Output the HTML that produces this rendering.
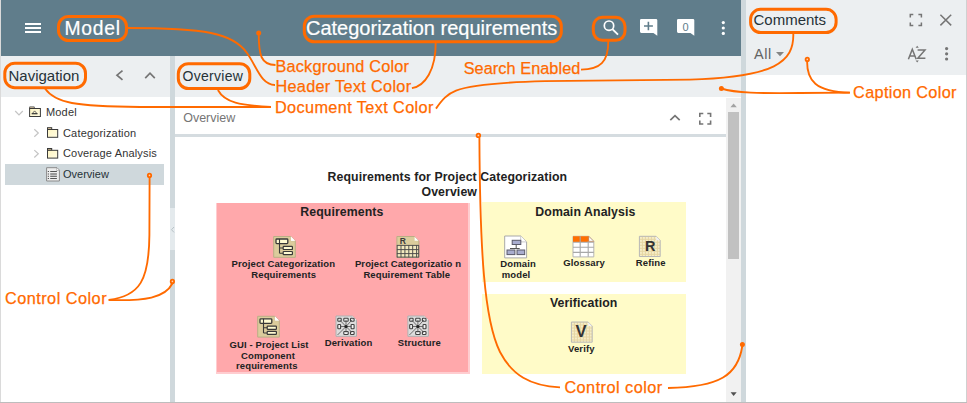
<!DOCTYPE html>
<html><head><meta charset="utf-8">
<style>
*{margin:0;padding:0;box-sizing:border-box}
html,body{width:967px;height:403px;overflow:hidden;background:#fff;font-family:"Liberation Sans",sans-serif}
.a{position:absolute}
.t{position:absolute;line-height:1;white-space:nowrap}
.hdr{left:1px;top:0;width:740px;height:56px;background:#607D8B}
.gray{background:#ECEFF1}
.div{background:#CFD8DC}
.w{color:#fff;-webkit-text-stroke:.2px #fff}
.nav{color:#333;font-size:11px;letter-spacing:.17px}
.lab{color:#FF6A00;font-size:16.3px;-webkit-text-stroke:.25px #FF6A00}
.dg{color:#222;font-weight:bold;font-size:12.3px;letter-spacing:.1px}
.dl{color:#222;font-weight:bold;font-size:9.5px;letter-spacing:.12px}
</style></head><body>
<!-- borders -->
<div class="a" style="left:0;top:0;width:1px;height:403px;background:#DADADA"></div>
<div class="a" style="left:966px;top:0;width:1px;height:403px;background:#D0D0D0"></div>

<!-- header -->
<div class="a hdr"></div>
<div class="a" style="left:25px;top:22.7px;width:15.8px;height:1.9px;background:#fff"></div>
<div class="a" style="left:25px;top:26.95px;width:15.8px;height:1.9px;background:#fff"></div>
<div class="a" style="left:25px;top:31.15px;width:15.8px;height:1.9px;background:#fff"></div>
<div class="t w" style="left:64.4px;top:18.9px;font-size:19.3px;letter-spacing:.8px">Model</div>
<div class="t w" style="left:306px;top:17.9px;font-size:20px">Categorization requirements</div>
<svg class="a" style="left:0;top:0" width="967" height="403" viewBox="0 0 967 403">
 <!-- search -->
 <circle cx="609" cy="25.7" r="4.7" fill="none" stroke="#fff" stroke-width="1.7"/>
 <line x1="612.4" y1="29.1" x2="618" y2="34.6" stroke="#fff" stroke-width="1.9"/>
 <!-- add comment bubble -->
 <path d="M641.3,19 H656 a1.3,1.3 0 0 1 1.3,1.3 V35.8 L653.4,32.9 H641.3 a1.3,1.3 0 0 1 -1.3,-1.3 V20.3 a1.3,1.3 0 0 1 1.3,-1.3Z" fill="#fff"/>
 <path d="M644,26 H652.9 M648.4,21.8 V30.2" stroke="#607D8B" stroke-width="1.6"/>
 <path d="M678.3,19 H693 a1.3,1.3 0 0 1 1.3,1.3 V35.8 L690.4,32.9 H678.3 a1.3,1.3 0 0 1 -1.3,-1.3 V20.3 a1.3,1.3 0 0 1 1.3,-1.3Z" fill="#fff"/>
 <!-- kebab -->
 <circle cx="723.3" cy="22.6" r="1.6" fill="#fff"/>
 <circle cx="723.3" cy="28" r="1.6" fill="#fff"/>
 <circle cx="723.3" cy="33.4" r="1.6" fill="#fff"/>
</svg>
<div class="t" style="left:682.5px;top:21.5px;font-size:11px;color:#607D8B">0</div>

<!-- right divider + comments panel -->
<div class="a div" style="left:741px;top:0;width:4.5px;height:403px"></div>
<div class="a gray" style="left:745.5px;top:0;width:220.5px;height:75px"></div>
<div class="t" style="left:753.5px;top:12.1px;font-size:15px;color:#263238">Comments</div>
<div class="t" style="left:754px;top:46.8px;font-size:14.5px;letter-spacing:.6px;color:#636363">All</div>

<!-- nav panel -->
<div class="a gray" style="left:1px;top:56px;width:169px;height:41px"></div>
<div class="t" style="left:8.5px;top:68.1px;font-size:15px;color:#263238">Navigation</div>
<!-- nav divider -->
<div class="a div" style="left:170px;top:56px;width:5px;height:346px"></div>
<div class="a" style="left:170px;top:208px;width:5px;height:42px;background:#E4EAED"></div>

<!-- tree -->
<div class="a" style="left:5px;top:164px;width:159px;height:21px;background:#CFD8DC"></div>
<div class="t nav" style="left:46px;top:106.6px">Model</div>
<div class="t nav" style="left:63px;top:127.5px">Categorization</div>
<div class="t nav" style="left:63px;top:148.1px">Coverage Analysis</div>
<div class="t nav" style="left:63px;top:168.9px;color:#263238;letter-spacing:0">Overview</div>

<!-- content -->
<div class="a gray" style="left:175px;top:56px;width:566px;height:41px"></div>
<div class="t" style="left:182.5px;top:68.9px;font-size:14px;letter-spacing:.3px;color:#263238">Overview</div>
<div class="t" style="left:183.2px;top:112.3px;font-size:12.5px;color:#757575">Overview</div>
<div class="a" style="left:175px;top:134px;width:551px;height:3px;background:#D5DCE0"></div>
<!-- scrollbar -->
<div class="a" style="left:726px;top:98px;width:15px;height:304px;background:#F1F1F1"></div>
<div class="a" style="left:728.2px;top:112.2px;width:10.6px;height:147.3px;background:#C1C1C1"></div>

<!-- bottom border -->
<div class="a" style="left:0;top:402px;width:967px;height:1px;background:#BDBDBD"></div>

<!-- diagram -->
<div class="a" style="left:216px;top:202.5px;width:254px;height:171.5px;background:#FFCDD0"></div>
<div class="a" style="left:217px;top:203px;width:251px;height:169px;background:#FFA8AB"></div>
<div class="a" style="left:482px;top:202px;width:204px;height:80px;background:#FFFBC8"></div>
<div class="a" style="left:482px;top:294px;width:204px;height:80px;background:#FFFBC8"></div>

<div class="t dg" style="left:327.5px;top:170.6px">Requirements for Project Categorization</div>
<div class="t dg" style="left:421.5px;top:185.9px">Overview</div>
<div class="t dg" style="left:300.3px;top:206.3px">Requirements</div>
<div class="t dg" style="left:535.3px;top:205.7px">Domain Analysis</div>
<div class="t dg" style="left:549.9px;top:297.2px">Verification</div>

<svg class="a" style="left:0;top:0" width="967" height="403" viewBox="0 0 967 403">
 <defs>
  <linearGradient id="fy" x1="0" y1="0" x2="1" y2="1"><stop offset="0" stop-color="#FFF6C2"/><stop offset="1" stop-color="#FFFBE2"/></linearGradient>
 </defs>
 <!-- tree chevrons -->
 <g fill="none" stroke="#C4C4C4" stroke-width="1.2">
  <path d="M15.2,111 L19,114.8 L22.8,111"/>
  <path d="M34.3,129.3 L38.3,133 L34.3,136.7"/>
  <path d="M34.3,150.1 L38.3,153.8 L34.3,157.5"/>
 </g>
 <!-- model package icon -->
 <path d="M29.6,108.5 V106.9 H34.3 V108.5" fill="#E9CFA0" stroke="#666" stroke-width="1"/>
 <rect x="29.6" y="108.5" width="10.8" height="8" fill="url(#fy)" stroke="#3a3a3a" stroke-width="1"/>
 <path d="M32.4,113.4 L34.6,110.9 L36.8,113.4" fill="none" stroke="#555" stroke-width=".9"/>
 <rect x="31.7" y="113.1" width="5.8" height="1.2" fill="#333"/>
 <!-- folders -->
 <g stroke="#3a3a3a" stroke-width="1">
  <rect x="47.5" y="127.7" width="4.2" height="1.8" fill="#E9CFA0"/>
  <rect x="47.5" y="129.5" width="10.2" height="7.8" fill="url(#fy)"/>
  <rect x="47.5" y="148.5" width="4.2" height="1.8" fill="#E9CFA0"/>
  <rect x="47.5" y="150.3" width="10.2" height="7.8" fill="url(#fy)"/>
 </g>
 <!-- overview doc -->
 <path d="M46.6,167.7 H57 L59.4,170.1 V181 H46.6 Z" fill="#EDEDED" stroke="#8a8a8a" stroke-width="1"/>
 <path d="M56.6,167.9 V170.5 H59.2" fill="#fff" stroke="#9a9a9a" stroke-width=".6"/>
 <g fill="#555">
  <rect x="47.8" y="171" width="1.2" height="1"/><rect x="50.2" y="171" width="6.7" height="1"/>
  <rect x="47.8" y="173.5" width="1.2" height="1"/><rect x="50.2" y="173" width="6.7" height="2.2" fill="#9a9a9a"/>
  <rect x="47.8" y="175.8" width="1.2" height="1"/><rect x="50.2" y="175.8" width="6.7" height="1"/>
  <rect x="47.8" y="178" width="1.2" height="1"/><rect x="50.2" y="178" width="6.7" height="1"/>
 </g>
 <!-- nav header chevrons -->
 <g fill="none" stroke="#757575" stroke-width="1.7">
  <path d="M122.5,70.6 L117,75.2 L122.5,79.8"/>
  <path d="M145.2,78.2 L150,73.2 L154.8,78.2"/>
  <path d="M670.3,120.2 L675,115.6 L679.7,120.2"/>
 </g>
 <!-- diagram fullscreen icon -->
 <path d="M699.8,117 V113.5 H703.3 M707.3,113.5 H710.6 V117 M710.6,120.6 V124 H707.3 M703.3,124 H699.8 V120.6" fill="none" stroke="#757575" stroke-width="1.6"/>
 <!-- comments panel icons -->
 <path d="M910.3,17.6 V14.6 H913.3 M918.4,14.6 H921.4 V17.6 M921.4,22.4 V25.4 H918.4 M913.3,25.4 H910.3 V22.4" fill="none" stroke="#757575" stroke-width="1.5"/>
 <path d="M940.4,14.8 L951.2,25.4 M951.2,14.8 L940.4,25.4" fill="none" stroke="#757575" stroke-width="1.5"/>
 <path d="M776,51.9 L784,51.9 L780,56.2 Z" fill="#858585"/>
 <g fill="#757575">
  <circle cx="946.6" cy="48.6" r="1.6"/><circle cx="946.6" cy="53.8" r="1.6"/><circle cx="946.6" cy="59" r="1.6"/>
 </g>
 <!-- AZ sort -->
 <path d="M908.4,59.2 L912.3,49.3 L916.2,59.2 M909.8,55.9 H914.8" fill="none" stroke="#757575" stroke-width="1.5"/>
 <path d="M917.6,49.9 H925 L917.8,58.3 H925.4" fill="none" stroke="#757575" stroke-width="1.5"/>
 <path d="M915.6,47.8 L917.2,45.8 L918.8,47.8Z M915.6,60.5 L917.2,62.4 L918.8,60.5Z" fill="#757575"/>
 <!-- scrollbar arrows -->
 <path d="M730.4,107.2 L733.6,103.6 L736.8,107.2 Z" fill="#A3A3A3"/>
 <path d="M730.6,392.3 L736.7,392.3 L733.65,396 Z" fill="#505050"/>
 <!-- splitter arrow -->
 <path d="M174,227 L171.5,229.7 L174,232.4" fill="none" stroke="#B8C2C7" stroke-width="1"/>
</svg>
<svg class="a" style="left:0;top:0" width="967" height="403" viewBox="0 0 967 403">
 <defs>
  <pattern id="gp" width="3" height="3" patternUnits="userSpaceOnUse">
   <rect width="3" height="3" fill="#F6EDC8"/><path d="M0,.5 H3 M.5,0 V3" stroke="#E6D6A2" stroke-width="1"/>
  </pattern>
  <g id="treeicon">
   <path d="M0.5,0.5 H17.6 L22.1,5 V21.3 H0.5 Z" fill="#DBCC9C" stroke="#BBAE86" stroke-width="1"/>
   <path d="M17.6,0.6 V5 H22" fill="#fff" stroke="#C9BD98" stroke-width=".6"/>
   <path d="M17.8,0.8 L21.8,4.8 H17.8Z" fill="#fff"/>
   <rect x="2.8" y="3" width="11.8" height="4.6" rx=".8" fill="#FFFBD2" stroke="#383838" stroke-width="1.3"/>
   <path d="M6.3,3 V17.2 M6.3,12 H10 M6.3,17.2 H10" stroke="#383838" stroke-width="1.1" fill="none"/>

   <rect x="10" y="10.4" width="9.2" height="3.1" rx=".6" fill="#FFFBD2" stroke="#383838" stroke-width="1.2"/>
   <rect x="10" y="15.5" width="9.2" height="3.1" rx=".6" fill="#FFFBD2" stroke="#383838" stroke-width="1.2"/>
  </g>
  <g id="graphicon">
   <path d="M0.5,0.5 H16.8 L21,4.7 V20.8 H0.5 Z" fill="#DCDCDC" stroke="#B0B0B0" stroke-width="1"/>
   <path d="M17,0.8 L20.7,4.5 H17Z" fill="#fff"/>
   <g fill="#F4F4F4" stroke="#404040" stroke-width="1.1">
    <rect x="2.3" y="2.8" width="3.4" height="3" rx=".7"/><rect x="8.3" y="2.8" width="4.4" height="3" rx=".7"/><rect x="15" y="2.8" width="3.6" height="3" rx=".7"/>
    <rect x="2.3" y="9" width="2.8" height="4.2" rx=".7"/><rect x="15.6" y="9" width="3" height="4.2" rx=".7"/>
    <rect x="8.3" y="16" width="4.4" height="3" rx=".7"/><rect x="15" y="16" width="3.6" height="3" rx=".7"/>
   </g>
   <path d="M10.5,11 L4,4.3 M10.5,11 L10.5,4.3 M10.5,11 L16.6,4.3 M10.5,11 L5,11 M10.5,11 L15.6,11 M10.5,11 L10.5,17 M10.5,11 L16.6,17 M10.5,11 L2,19.5" stroke="#505050" stroke-width=".8"/>
   <circle cx="10.5" cy="11" r="1.6" fill="#222"/>
  </g>
 </defs>
 <use href="#treeicon" x="273.2" y="236"/>
 <use href="#treeicon" x="257.2" y="315.8"/>
 <use href="#graphicon" x="335.5" y="315.5"/>
 <use href="#graphicon" x="407.4" y="315.5"/>
 <!-- table icon -->
 <g transform="translate(396.4,236)">
  <path d="M0.5,0.5 H18 L22.5,5 V21.3 H0.5 Z" fill="#DBCC9C" stroke="#BBAE86" stroke-width="1"/>
  <path d="M18.2,0.8 L22.2,4.8 H18.2Z" fill="#fff"/>
  <text x="3.3" y="8" font-family="Liberation Sans" font-weight="bold" font-size="8.5" fill="#3a3a3a">R</text>
  <rect x="0.5" y="9.2" width="22" height="12.1" fill="#F3EABF"/>
  <path d="M0.5,9.4 H22.5 M0.5,13.6 H22.5 M0.5,17.6 H22.5 M0.5,21.1 H22.5 M0.8,9.2 V21.3 M4.6,9.2 V21.3 M8.5,9.2 V21.3 M12.4,9.2 V21.3 M16.3,9.2 V21.3 M20.2,9.2 V21.3 M22.3,9.2 V21.3" stroke="#4a4a4a" stroke-width=".95"/>
 </g>
 <!-- domain model -->
 <g transform="translate(504.2,235.5)">
  <path d="M0.5,0.5 H16.5 L22.4,6.4 V22.4 H0.5 Z" fill="#fff" stroke="#A8A8A8" stroke-width="1"/>
  <path d="M16.5,0.6 V6.4 H22.3" fill="#fff" stroke="#BDBDBD" stroke-width=".8"/>
  <path d="M12,9 V13 M5.8,13 H15.5" stroke="#555" stroke-width="1"/>
  <rect x="8" y="4.8" width="8.6" height="4.2" fill="#A9ADCF" stroke="#5a5a6a" stroke-width="1"/>
  <rect x="2.8" y="14.5" width="7.9" height="4.6" fill="#A9ADCF" stroke="#5a5a6a" stroke-width="1"/>
  <rect x="12.8" y="14.5" width="7.7" height="4.6" fill="#A9ADCF" stroke="#5a5a6a" stroke-width="1"/>
 </g>
 <!-- glossary -->
 <g transform="translate(572.5,235.8)">
  <path d="M0.5,0.5 H16.3 L21.3,5.5 V21.1 H0.5 Z" fill="#fff" stroke="#B5B5B5" stroke-width="1"/>
  <path d="M0.5,0.5 H16.3 L21.3,5.5 V6.1 H0.5 Z" fill="#FF6F00"/>
  <path d="M16.3,0.6 V5.5 H21.2 Z" fill="#fff" stroke="#B0B0B0" stroke-width=".7"/>
  <path d="M0.5,6.4 H21.3 M0.5,11.5 H21.3 M0.5,16.6 H21.3 M7.7,0.5 V21 M15.7,5.5 V21" stroke="#A8A8A8" stroke-width="1.1"/>
  <path d="M15.7,0.5 V5.5" stroke="#E07A30" stroke-width="1.1"/>
 </g>
 <!-- refine -->
 <g transform="translate(638.9,235.8)">
  <path d="M0.5,0.5 H17.2 L21.3,4.6 V20.7 H0.5 Z" fill="url(#gp)" stroke="#B8B8B8" stroke-width="1"/>
  <path d="M17.3,0.8 L21,4.5 H17.3Z" fill="#f2f2f2"/>
  <text x="6.2" y="15.3" font-family="Liberation Sans" font-weight="bold" font-size="14.2" fill="#333" textLength="10.4" lengthAdjust="spacingAndGlyphs">R</text>
 </g>
 <!-- verify -->
 <g transform="translate(570.9,321.5)">
  <path d="M0.5,0.5 H17.2 L21.3,4.6 V20.7 H0.5 Z" fill="url(#gp)" stroke="#B8B8B8" stroke-width="1"/>
  <path d="M17.3,0.8 L21,4.5 H17.3Z" fill="#f2f2f2"/>
  <text x="4.7" y="15.3" font-family="Liberation Sans" font-weight="bold" font-size="16" fill="#333" textLength="11.1" lengthAdjust="spacingAndGlyphs">V</text>
 </g>
</svg>
<div class="t dl" style="left:231.6px;top:258.5px">Project Categorization</div>
<div class="t dl" style="left:251.3px;top:269.8px">Requirements</div>
<div class="t dl" style="left:354.9px;top:258.5px">Project Categorizatio n</div>
<div class="t dl" style="left:363.4px;top:269.8px">Requirement Table</div>
<div class="t dl" style="left:229.4px;top:340px">GUI - Project List</div>
<div class="t dl" style="left:241.1px;top:350.5px">Component</div>
<div class="t dl" style="left:236px;top:361px">requirements</div>
<div class="t dl" style="left:324.7px;top:337.6px">Derivation</div>
<div class="t dl" style="left:397.7px;top:337.6px">Structure</div>
<div class="t dl" style="left:500.3px;top:258.7px">Domain</div>
<div class="t dl" style="left:501.8px;top:270.2px">model</div>
<div class="t dl" style="left:563.3px;top:257.6px">Glossary</div>
<div class="t dl" style="left:635.8px;top:257.6px">Refine</div>
<div class="t dl" style="left:568px;top:344px">Verify</div>

<!-- annotations -->
<svg class="a" style="left:0;top:0" width="967" height="403" viewBox="0 0 967 403">
 <g fill="none" stroke="#FF6A00" stroke-width="3">
  <rect x="58.5" y="16.5" width="68" height="24" rx="10"/>
  <rect x="304.3" y="16.2" width="257" height="25.6" rx="10"/>
  <rect x="593.3" y="17.3" width="31.7" height="23" rx="9"/>
  <rect x="4.8" y="63.2" width="80.7" height="24.5" rx="10"/>
  <rect x="178.3" y="63.7" width="71.5" height="24.9" rx="10"/>
  <rect x="750.6" y="9.3" width="85.5" height="23.3" rx="10"/>
 </g>
 <g fill="none" stroke="#FF6A00" stroke-width="1.85">
  <path d="M127,28 C205,28 233,33 247,53 C257,67 261,85 275,85"/>
  <path d="M258.7,33 C258.7,55 261,65 275.5,65"/>
  <path d="M435.7,42 C436,70 425,86 411.9,88.2"/>
  <path d="M608.3,41 C608.5,62 600,69.6 581,69.6"/>
  <path d="M45,88.5 C55,103 75,106.5 140,107 L271,107"/>
  <path d="M217.9,90 C225,103 240,105 271,107"/>
  <path d="M436,108.6 C442,100 447,94 456,90.6 C468,86 490,82.5 545,81.2 L690,79.6 C775,77 794,62 793.3,34"/>
  <path d="M721.4,88.5 C735,93 760,93.5 800,93 L849.9,92.7"/>
  <path d="M807.1,61.5 C807,80 815,92 849.9,92.7"/>
  <path d="M149.6,177.5 L149.4,235 C149,280 140,296 108.7,300"/>
  <path d="M108.7,300 C145,301 165,298 172.4,283.5"/>
  <path d="M479.4,137.5 C480,250 484,320 500,352 C512,375 530,386 560,387.4"/>
  <path d="M668,388 C720,387 738,375 742.3,346"/>
 </g>
 <g fill="#FF6A00">
  <circle cx="258.7" cy="33" r="2.5"/>
  <circle cx="721.4" cy="88.5" r="2.5"/>
 </g>
 <g fill="#FFD2B0" stroke="#FF6A00" stroke-width="1.8">
  <circle cx="807.3" cy="59.4" r="1.7"/>
  <circle cx="149.5" cy="175.4" r="1.7"/>
  <circle cx="172.4" cy="281.4" r="1.7"/>
  <circle cx="478.4" cy="135.4" r="1.8"/>
 </g>
 <circle cx="742.4" cy="344.4" r="2.5" fill="#FF6A00"/>
</svg>
<div class="t lab" style="left:275.4px;top:58.1px;letter-spacing:.22px">Background Color</div>
<div class="t lab" style="left:275.4px;top:78.1px;letter-spacing:.3px">Header Text Color</div>
<div class="t lab" style="left:274.9px;top:99.1px;letter-spacing:.38px">Document Text Color</div>
<div class="t lab" style="left:463.7px;top:59.8px;letter-spacing:.06px">Search Enabled</div>
<div class="t lab" style="left:853.1px;top:83.8px;letter-spacing:.32px">Caption Color</div>
<div class="t lab" style="left:4.9px;top:289.8px;letter-spacing:.48px">Control Color</div>
<div class="t lab" style="left:564.4px;top:379px;letter-spacing:.46px">Control color</div>
</body></html>
